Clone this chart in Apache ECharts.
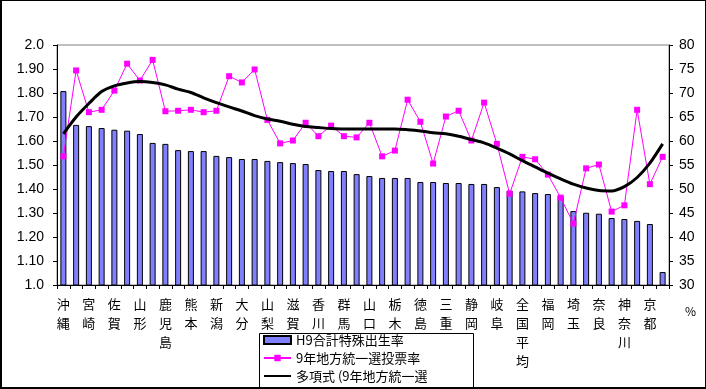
<!DOCTYPE html>
<html><head><meta charset="utf-8">
<script src="https://cdn.jsdelivr.net/npm/echarts@6/dist/echarts.min.js"></script>
<style>
html,body{margin:0;padding:0;background:#fff;}
#frame{width:706px;height:389px;box-sizing:border-box;border:1px solid #000;border-left:2px solid #000;border-bottom:2px solid #000;position:relative;overflow:hidden;}
#chart{position:absolute;left:-2px;top:-1px;width:706px;height:389px;}
</style></head>
<body><div id="frame"><div id="chart"></div></div>
<script>
const categories = ['沖縄','島根','宮崎','福島','佐賀','鳥取','山形','長崎','鹿児島','福井','熊本','長野','新潟','岩手','大分','青森','山梨','岡山','滋賀','愛媛','香川','秋田','群馬','茨城','山口','富山','栃木','石川','徳島','和歌山','三重','高知','静岡','愛知','岐阜','広島','全国平均','宮城','福岡','兵庫','埼玉','千葉','奈良','大阪','神奈川','北海道','京都','東京'];
const tfr = [1.808,1.667,1.662,1.654,1.647,1.643,1.629,1.592,1.588,1.562,1.558,1.558,1.538,1.533,1.525,1.525,1.517,1.512,1.508,1.504,1.479,1.475,1.475,1.462,1.454,1.446,1.446,1.446,1.429,1.429,1.425,1.425,1.421,1.421,1.408,1.393,1.390,1.383,1.379,1.372,1.308,1.301,1.297,1.279,1.275,1.267,1.254,1.054];
const turnout = [56.8,74.7,66.0,66.5,70.5,76.1,72.6,76.9,66.2,66.3,66.5,66.0,66.3,73.5,72.2,74.9,64.4,59.5,60.1,63.8,61.0,63.2,61.0,60.75,63.8,56.8,58.0,68.6,64.0,55.3,65.1,66.3,60.1,68.0,59.4,49.0,56.7,56.2,53.0,48.2,42.8,54.3,55.1,45.3,46.6,66.5,51.0,56.7];
const trend = [61.5,65.0,67.8,70.3,71.5,72.1,72.4,72.2,71.7,70.8,70.1,69.0,68.0,67.1,66.25,65.3,64.6,64.1,63.5,63.0,62.8,62.6,62.5,62.5,62.5,62.5,62.5,62.35,62.1,61.7,61.5,61.0,60.3,59.6,58.5,57.3,55.9,54.6,53.3,52.1,51.0,50.2,49.7,49.6,50.5,52.4,55.4,59.4];
const leftTickLabels = ['1.0','1.10','1.20','1.30','1.40','1.50','1.60','1.70','1.80','1.90','2.0'];
const rightTickLabels = ['30','35','40','45','50','55','60','65','70','75','80'];
const seriesNames = ['H9合計特殊出生率','9年地方統一選投票率','多項式 (9年地方統一選'];

const FONT = '"Noto Sans CJK JP", sans-serif';
const NUMFONT = '"Liberation Sans", Arial, sans-serif';
const chart = echarts.init(document.getElementById('chart'), null, {renderer:'canvas'});
const option = {
  animation:false,
  backgroundColor:'#fff',
  textStyle:{fontFamily:FONT, color:'#000'},
  grid:{left:57, right:37, top:45, bottom:104, show:true, borderColor:'#808080', borderWidth:1, backgroundColor:'transparent'},
  legend:{
    orient:'vertical', left:263, top:333, padding:0, height:60, itemWidth:27, itemHeight:8, itemGap:4,
    textStyle:{fontFamily:FONT, fontSize:13, color:'#000', lineHeight:14},
    data:[
      {name:seriesNames[0], icon:'rect'},
      {name:seriesNames[1]},
      {name:seriesNames[2], itemStyle:{opacity:0}}
    ]
  },
  xAxis:{
    type:'category', data:categories, boundaryGap:true,
    axisLine:{lineStyle:{color:'#000', width:1}},
    axisTick:{show:true, interval:0, length:4, lineStyle:{color:'#000'}},
    axisLabel:{interval:1, margin:10, fontSize:13, color:'#000', lineHeight:19, fontFamily:FONT,
      formatter:v=>v.split('').join('\n')}
  },
  yAxis:[
    {type:'value', min:1.0, max:2.0, interval:0.1, position:'left',
     axisLine:{show:true, lineStyle:{color:'#000'}},
     axisTick:{show:true, length:4, lineStyle:{color:'#000'}},
     splitLine:{show:false},
     axisLabel:{margin:13, fontSize:14, color:'#000', fontFamily:NUMFONT,
       formatter:(v)=>leftTickLabels[Math.round((v-1)*10)]}},
    {type:'value', min:30, max:80, interval:5, position:'right',
     axisLine:{show:true, lineStyle:{color:'#000'}},
     axisTick:{show:true, length:4, lineStyle:{color:'#000'}},
     splitLine:{show:false},
     axisLabel:{margin:10, fontSize:14, color:'#000', fontFamily:NUMFONT,
       formatter:(v)=>rightTickLabels[Math.round((v-30)/5)]}}
  ],
  series:[
    {name:seriesNames[0], type:'bar', data:tfr, yAxisIndex:0, barWidth:6,
     itemStyle:{color:'#8080FF', borderColor:'#000', borderWidth:1}, z:1},
    {name:seriesNames[1], type:'line', data:turnout, yAxisIndex:1,
     symbol:'rect', symbolSize:6, lineStyle:{color:'#FF00FF', width:1},
     itemStyle:{color:'#FF00FF'}, z:3},
    {name:seriesNames[2], type:'line', data:trend, yAxisIndex:1, smooth:0.3,
     symbol:'none', lineStyle:{color:'#000', width:3}, itemStyle:{color:'#000'}, z:4}
  ],
  graphic:[
    {type:'rect', left:257, top:331, shape:{width:214, height:55}, style:{fill:'none', stroke:'#000', lineWidth:1}, z:-1},
    {type:'text', left:685, top:305, style:{text:'%', font:'12px '+FONT, fill:'#000'}}
  ]
};
chart.setOption(option);
</script></body></html>
